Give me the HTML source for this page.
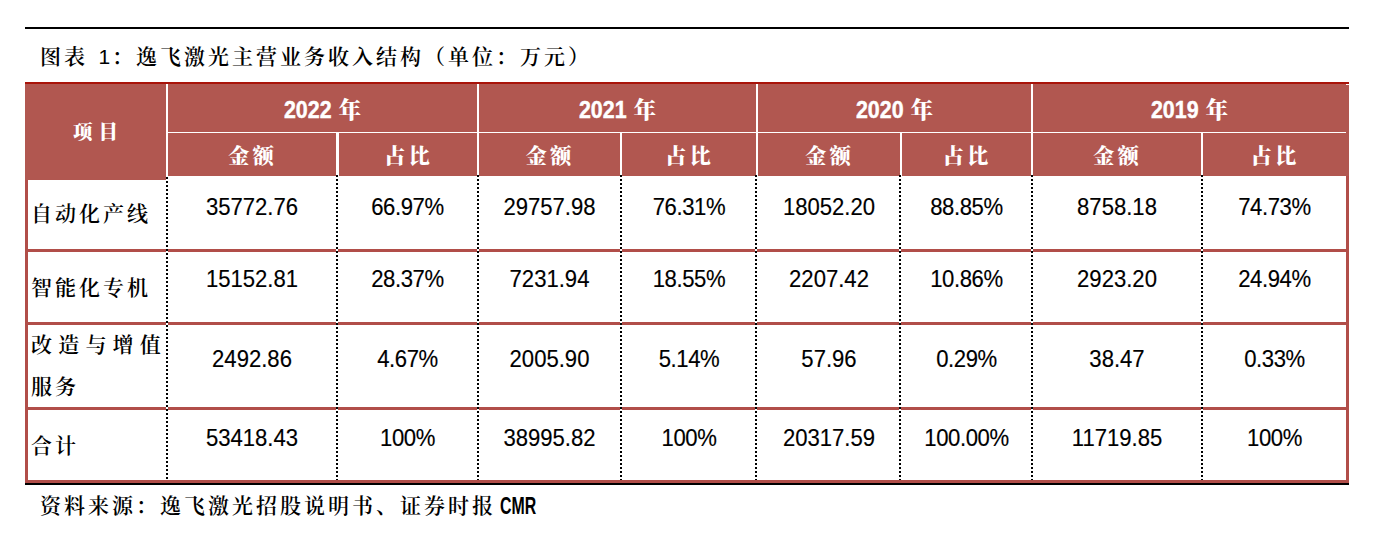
<!DOCTYPE html>
<html lang="zh-CN">
<head>
<meta charset="utf-8">
<title>图表 1：逸飞激光主营业务收入结构</title>
<style>
  html, body { margin: 0; padding: 0; background: #fff; }
  body { width: 1374px; height: 544px; position: relative; overflow: hidden;
         font-family: "Liberation Sans", "Noto Serif CJK SC", sans-serif; color: #000; }
  .abs { position: absolute; }
  .kai { font-family: "Liberation Sans", "Noto Serif CJK SC", serif; }
  .rule { position: absolute; left: 25px; width: 1324px; height: 2px; background: #000; }

  /* caption + source */
  .caption, .source { position: absolute; left: 40px; white-space: nowrap; font-size: 21px;
                      letter-spacing: 3px; line-height: 30px; height: 30px; font-weight: 600; }
  .caption { top: 42px; }
  .source  { top: 490.5px; }
  .lat { letter-spacing: 0; display: inline-block; font-weight: 400; }
  .cmr { position: absolute; left: 460px; top: 0; letter-spacing: 0; font-family: "Liberation Sans", sans-serif; font-size: 23px; line-height: 30px;
         font-weight: 700; transform: scaleX(0.69); transform-origin: left center; }

  /* table frame */
  .hdr { position: absolute; left: 25px; top: 82px; width: 1324px; height: 94px; background: #b15750; }
  .hdr-top { position: absolute; left: 25px; top: 82px; width: 1324px; height: 2px; background: #a9140a; }
  .hdr-ext { position: absolute; left: 25px; top: 176px; width: 141px; height: 4px; background: #b15750; }
  .wv { position: absolute; background: #fff; }
  .sep { position: absolute; left: 25px; width: 1324px; height: 3px; background: #b14e49; }
  .side { position: absolute; top: 176px; width: 3px; height: 307px; background: #b14e49; }
  .dot { position: absolute; top: 175px; width: 2px; height: 305px;
         background: repeating-linear-gradient(to bottom, #000 0, #000 2px, #fff 2px, #fff 4px); }

  /* cells */
  .c { position: absolute; display: flex; align-items: center; justify-content: center; white-space: nowrap; }
  .th { color: #fff; font-weight: 700; }
  .th.kai, .th .kai { font-family: "Liberation Sans", "Noto Serif CJK SC", serif; font-weight: 900; }
  .yr { font-size: 22px; top: 85px; height: 48px; }
  .yr .dg { position: relative; top: 2.4px; display: inline-block; font-size: 21.4px; transform: scaleY(1.08); transform-origin: 50% 82%; -webkit-text-stroke: 0.4px #fff; }
  .yr .cj { font-size: 22.5px; margin-left: 7px; position: relative; top: -1px; }
  .sub { font-size: 21px; top: 132px; height: 43px; letter-spacing: 3.5px; padding-left: 1.5px; box-sizing: border-box; }
  .num { font-size: 22.1px; transform: translateY(-0.2px) scaleY(1.04); -webkit-text-stroke: 0.15px #000; }
  .pct { letter-spacing: -0.4px; }
  .lab { position: absolute; left: 31px; font-size: 21px; letter-spacing: 3px; white-space: nowrap; line-height: 30px; font-weight: 600; }
</style>
</head>
<body>

<div class="rule" style="top:27px"></div>
<div class="caption kai">图表<span class="lat" style="width:10.5px"> </span><span class="lat" style="width:13.5px; text-align:left">1</span>：逸飞激光主营业务收入结构（单位：万元）</div>

<!-- header background -->
<div class="hdr"></div>
<div class="hdr-top"></div>
<div class="hdr-ext"></div>

<!-- white header grid lines -->
<div class="wv" style="left:168px; top:132px; width:1178px; height:1px"></div>
<div class="wv" style="left:166px; top:84px;  width:2px; height:92px"></div>
<div class="wv" style="left:336px; top:133px; width:3px; height:43px"></div>
<div class="wv" style="left:477px; top:84px;  width:2px; height:92px"></div>
<div class="wv" style="left:620px; top:133px; width:2px; height:43px"></div>
<div class="wv" style="left:756px; top:84px;  width:2px; height:92px"></div>
<div class="wv" style="left:900px; top:133px; width:2px; height:43px"></div>
<div class="wv" style="left:1031px; top:84px; width:2px; height:92px"></div>
<div class="wv" style="left:1201px; top:133px; width:2px; height:43px"></div>
<div class="wv" style="left:1346px; top:84px; width:3px; height:1px"></div>

<!-- body frame -->
<div class="side" style="left:25px; top:180px; height:303px"></div>
<div class="side" style="left:1346px"></div>
<div class="sep" style="top:249px"></div>
<div class="sep" style="top:322px"></div>
<div class="sep" style="top:407px"></div>
<div class="sep" style="top:480px"></div>
<div class="rule" style="top:483px"></div>

<!-- dotted column separators -->
<div class="dot" style="left:166px; top:177px; height:303px"></div>
<div class="dot" style="left:336px"></div>
<div class="dot" style="left:477px"></div>
<div class="dot" style="left:620px"></div>
<div class="dot" style="left:755px"></div>
<div class="dot" style="left:899px"></div>
<div class="dot" style="left:1031px"></div>
<div class="dot" style="left:1201px"></div>

<!-- header text -->
<div class="c th kai" style="left:28px; width:138px; top:85px; height:91px; font-size:19.5px; letter-spacing:6px; padding-left:3px; box-sizing:border-box;">项目</div>

<div class="c th yr" style="left:168px;  width:309px"><span class="dg">2022</span><span class="cj kai">年</span></div>
<div class="c th yr" style="left:479px;  width:277px"><span class="dg">2021</span><span class="cj kai">年</span></div>
<div class="c th yr" style="left:758px;  width:273px"><span class="dg">2020</span><span class="cj kai">年</span></div>
<div class="c th yr" style="left:1033px; width:313px"><span class="dg">2019</span><span class="cj kai">年</span></div>

<div class="c th sub kai" style="left:168px;  width:168px">金额</div>
<div class="c th sub kai" style="left:339px;  width:138px">占比</div>
<div class="c th sub kai" style="left:479px;  width:141px">金额</div>
<div class="c th sub kai" style="left:622px;  width:134px">占比</div>
<div class="c th sub kai" style="left:758px;  width:142px">金额</div>
<div class="c th sub kai" style="left:902px;  width:129px">占比</div>
<div class="c th sub kai" style="left:1033px; width:168px">金额</div>
<div class="c th sub kai" style="left:1203px; width:143px">占比</div>

<!-- row labels -->
<div class="lab kai" style="top:199px">自动化产线</div>
<div class="lab kai" style="top:272.5px">智能化专机</div>
<div class="lab kai" style="top:330px; letter-spacing:6.2px">改造与增值</div>
<div class="lab kai" style="top:372px">服务</div>
<div class="lab kai" style="top:431px">合计</div>

<!-- row 1 -->
<div class="c num" style="left:168px;  width:168px; top:195.5px; height:24px">35772.76</div>
<div class="c num pct" style="left:338px;  width:139px; top:195.5px; height:24px">66.97%</div>
<div class="c num" style="left:479px;  width:141px; top:195.5px; height:24px">29757.98</div>
<div class="c num pct" style="left:622px;  width:134px; top:195.5px; height:24px">76.31%</div>
<div class="c num" style="left:758px;  width:142px; top:195.5px; height:24px">18052.20</div>
<div class="c num pct" style="left:902px;  width:129px; top:195.5px; height:24px">88.85%</div>
<div class="c num" style="left:1033px; width:168px; top:195.5px; height:24px">8758.18</div>
<div class="c num pct" style="left:1203px; width:143px; top:195.5px; height:24px">74.73%</div>

<!-- row 2 -->
<div class="c num" style="left:168px;  width:168px; top:268px; height:24px">15152.81</div>
<div class="c num pct" style="left:338px;  width:139px; top:268px; height:24px">28.37%</div>
<div class="c num" style="left:479px;  width:141px; top:268px; height:24px">7231.94</div>
<div class="c num pct" style="left:622px;  width:134px; top:268px; height:24px">18.55%</div>
<div class="c num" style="left:758px;  width:142px; top:268px; height:24px">2207.42</div>
<div class="c num pct" style="left:902px;  width:129px; top:268px; height:24px">10.86%</div>
<div class="c num" style="left:1033px; width:168px; top:268px; height:24px">2923.20</div>
<div class="c num pct" style="left:1203px; width:143px; top:268px; height:24px">24.94%</div>

<!-- row 3 -->
<div class="c num" style="left:168px;  width:168px; top:348px; height:24px">2492.86</div>
<div class="c num pct" style="left:338px;  width:139px; top:348px; height:24px">4.67%</div>
<div class="c num" style="left:479px;  width:141px; top:348px; height:24px">2005.90</div>
<div class="c num pct" style="left:622px;  width:134px; top:348px; height:24px">5.14%</div>
<div class="c num" style="left:758px;  width:142px; top:348px; height:24px">57.96</div>
<div class="c num pct" style="left:902px;  width:129px; top:348px; height:24px">0.29%</div>
<div class="c num" style="left:1033px; width:168px; top:348px; height:24px">38.47</div>
<div class="c num pct" style="left:1203px; width:143px; top:348px; height:24px">0.33%</div>

<!-- row 4 -->
<div class="c num" style="left:168px;  width:168px; top:426.5px; height:24px">53418.43</div>
<div class="c num pct" style="left:338px;  width:139px; top:426.5px; height:24px">100%</div>
<div class="c num" style="left:479px;  width:141px; top:426.5px; height:24px">38995.82</div>
<div class="c num pct" style="left:622px;  width:134px; top:426.5px; height:24px">100%</div>
<div class="c num" style="left:758px;  width:142px; top:426.5px; height:24px">20317.59</div>
<div class="c num pct" style="left:902px;  width:129px; top:426.5px; height:24px">100.00%</div>
<div class="c num" style="left:1033px; width:168px; top:426.5px; height:24px">11719.85</div>
<div class="c num pct" style="left:1203px; width:143px; top:426.5px; height:24px">100%</div>

<div class="source kai">资料来源：逸飞激光招股说明书、证券时报<span class="cmr">CMR</span></div>

</body>
</html>
